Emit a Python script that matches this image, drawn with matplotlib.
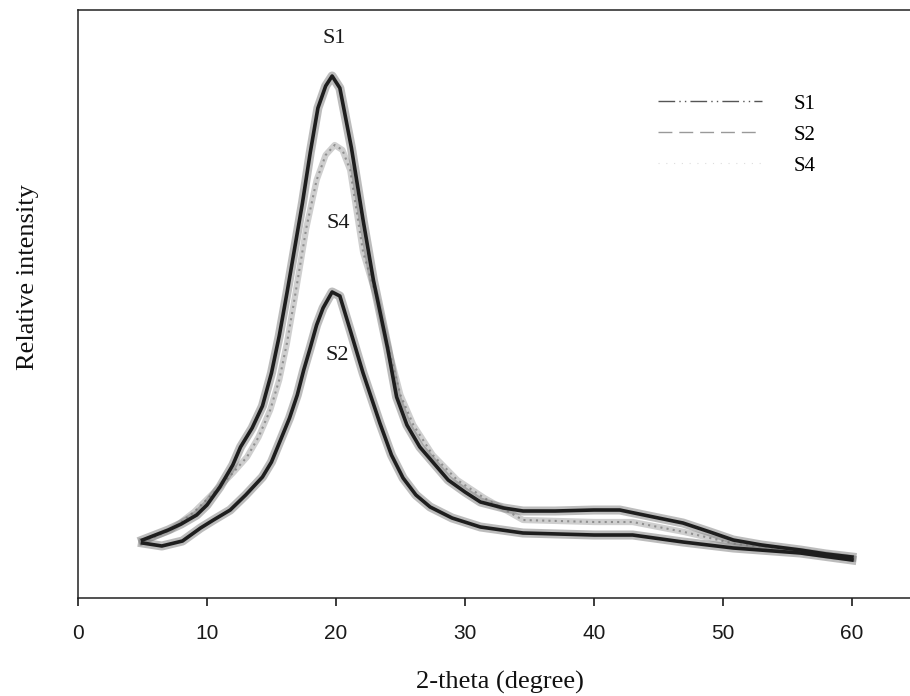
import matplotlib
matplotlib.use("Agg")
import matplotlib.pyplot as plt
from matplotlib.lines import Line2D

# ---- data (2-theta in degrees, relative intensity in arbitrary units) ----
s1_x = [5.0, 6.0, 7.0, 8.0, 9.2, 10.0, 11.0, 12.0, 12.6, 13.5, 14.3, 15.0, 15.6, 16.2, 16.8, 17.4,
        18.0, 18.6, 19.2, 19.7, 20.3, 21.2, 22.1, 22.9, 24.0, 24.7, 25.5, 26.5, 27.5, 28.7, 30.0,
        31.2, 33.0, 34.5, 37.0, 40.0, 42.0, 43.5, 45.0, 46.9, 49.0, 50.8, 53.0, 56.0, 58.0, 60.0]
s1_y = [58, 63, 68, 74, 83, 93, 111, 133, 151, 170, 192, 225, 262, 305, 350, 395,
        445, 490, 512, 522, 510, 450, 378, 318, 250, 201, 173, 151, 136, 118, 106,
        96, 90, 87, 87, 88, 88, 84, 80, 75, 66, 58, 53, 48, 44, 41]

s2_x = [5.0, 6.5, 8.1, 9.5, 10.5, 11.8, 13.0, 14.3, 15.0, 15.7, 16.4, 17.0, 17.5, 18.0, 18.5,
        19.0, 19.7, 20.3, 21.1, 22.1, 23.4, 24.3, 25.2, 26.2, 27.3, 29.0, 31.2, 34.5, 40.0,
        43.0, 46.9, 50.8, 56.0, 60.0]
s2_y = [55, 52, 57, 70, 78, 88, 103, 121, 136, 158, 180, 203, 228, 250, 273,
        290, 306, 302, 268, 225, 175, 143, 120, 103, 91, 80, 71, 65, 63,
        63, 56, 50, 45, 38]

s4_x = [5.0, 7.2, 9.0, 10.5, 12.0, 13.1, 14.0, 14.9, 15.6, 16.2, 16.8, 17.7, 18.5, 19.2, 19.9,
        20.5, 21.1, 22.1, 23.2, 24.2, 25.0, 26.0, 27.5, 29.4, 31.5, 34.5, 40.0, 43.0, 47.0,
        51.0, 56.0, 60.0]
s4_y = [56, 68, 86, 105, 125, 141, 161, 188, 218, 255, 300, 370, 418, 443, 453,
        448, 428, 346, 298, 243, 203, 173, 143, 118, 100, 78, 76, 76, 66,
        54, 47, 40]

x_ticks = [0, 10, 20, 30, 40, 50, 60]
series_names = ["S1", "S2", "S4"]
peak_labels = [("S1", 19.9, 560), ("S4", 20.2, 375), ("S2", 20.1, 243)]

# ---- figure ----
fig = plt.figure(figsize=(9.10, 6.96), dpi=100)
ax = fig.add_axes([0.0857, 0.1408, 0.9143, 0.8448])

# S4: light grey speckled band
ax.plot(s4_x, s4_y, color="#cfcfcf", lw=4.5, solid_joinstyle="round", zorder=2)
ax.plot(s4_x, s4_y, color="#8f8f8f", lw=1.5, ls=(0, (1, 2)), zorder=2)
# S1 and S2: dark noisy bands
for xs, ys in [(s1_x, s1_y), (s2_x, s2_y)]:
    ax.plot(xs, ys, color="#7a7a7a", lw=6.5, alpha=0.5, solid_joinstyle="round", zorder=3)
    ax.plot(xs, ys, color="#1e1e1e", lw=2.6, solid_joinstyle="round", zorder=4)

for txt, x, y in peak_labels:
    ax.text(x, y, txt, ha="center", va="center", fontsize=16,
            family="Liberation Serif", color="#1a1a1a", zorder=6)

ax.set_xlim(0, 64.5)
ax.set_ylim(0, 588)
ax.set_xticks(x_ticks)
ax.set_xticklabels([str(t) for t in x_ticks], family="Liberation Sans", fontsize=15)
ax.set_yticks([])
ax.tick_params(axis="x", direction="out", length=6, width=1.2, pad=13, colors="#1a1a1a")
for side in ["left", "bottom", "top"]:
    ax.spines[side].set_color("#222222")
    ax.spines[side].set_linewidth(1.1)
ax.spines["right"].set_visible(False)

ax.set_xlabel("2-theta (degree)", family="Liberation Serif", fontsize=19, color="#111111")
ax.set_ylabel("Relative intensity", family="Liberation Serif", fontsize=19, color="#111111")
ax.xaxis.set_label_coords(0.507, -0.143)
ax.xaxis.label.set_va("center")
ax.yaxis.set_label_coords(-0.060, 0.545)
ax.yaxis.label.set_va("center")

handles = [Line2D([], [], color="#555555", lw=1.0, ls=(0, (12, 3, 1, 3, 1, 3))),
           Line2D([], [], color="#999999", lw=1.0, ls=(0, (10, 5))),
           Line2D([], [], color="#dddddd", lw=0.8, ls=(0, (1, 6)))]
leg = ax.legend(handles, series_names, loc="upper left", bbox_to_anchor=(0.697, 0.857),
                frameon=False, borderpad=0, borderaxespad=0, handlelength=5.0,
                handletextpad=1.5, labelspacing=0.55,
                prop={"family": "Liberation Serif", "size": 15})

fig.savefig("out.png", dpi=100, facecolor="white")
